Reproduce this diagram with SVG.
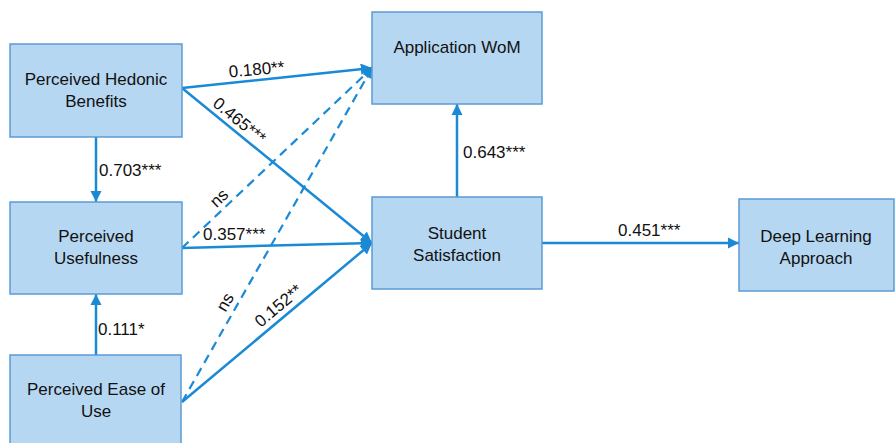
<svg xmlns="http://www.w3.org/2000/svg" width="895" height="443" viewBox="0 0 895 443">
<style>
.box{fill:#b6d7f1;stroke:#5b9bd5;stroke-width:1.5}
.t{font-family:"Liberation Sans",Arial,sans-serif;font-size:17px;fill:#111;text-anchor:middle}
.l{font-family:"Liberation Sans",Arial,sans-serif;font-size:17px;fill:#111}
.c{stroke:#1a8ad6;stroke-width:2.5;fill:none}
.d{stroke:#1a8ad6;stroke-width:2.2;fill:none;stroke-dasharray:9,6}
</style>
<defs>
<marker id="ah" viewBox="0 0 10 10" refX="10" refY="5" markerWidth="4.5" markerHeight="4.5" markerUnits="strokeWidth" orient="auto">
<path d="M0,0 L10,5 L0,10 z" fill="#1a8ad6"/>
</marker>
</defs>
<rect width="895" height="443" fill="#fff"/>
<g id="connectors">
<line class="c" x1="182" y1="88" x2="372" y2="68" marker-end="url(#ah)"/>
<line class="c" x1="182" y1="88" x2="372" y2="243" marker-end="url(#ah)"/>
<line class="c" x1="96" y1="137" x2="96" y2="202" marker-end="url(#ah)"/>
<line class="d" x1="182" y1="248" x2="372" y2="68" marker-end="url(#ah)"/>
<line class="c" x1="182" y1="248" x2="372" y2="243" marker-end="url(#ah)"/>
<line class="d" x1="182" y1="402" x2="372" y2="68" marker-end="url(#ah)"/>
<line class="c" x1="182" y1="402" x2="372" y2="243" marker-end="url(#ah)"/>
<line class="c" x1="96" y1="355" x2="96" y2="294" marker-end="url(#ah)"/>
<line class="c" x1="457" y1="197" x2="457" y2="104" marker-end="url(#ah)"/>
<line class="c" x1="542" y1="243" x2="739" y2="243" marker-end="url(#ah)"/>
<text class="t" x="257" y="75" transform="rotate(-5 257 75)">0.180**</text>
<text class="t" x="236" y="125" transform="rotate(39 236 125)">0.465***</text>
<text class="t" x="223" y="202" transform="rotate(-43.5 223 202)">ns</text>
<text class="t" x="230" y="305" transform="rotate(-60 230 305)">ns</text>
<text class="t" x="282" y="310" transform="rotate(-40 282 310)">0.152**</text>
<text class="l" x="203" y="240">0.357***</text>
<text class="l" x="99" y="176">0.703***</text>
<text class="l" x="98" y="335">0.111*</text>
<text class="l" x="463" y="158">0.643***</text>
<text class="l" x="618" y="236">0.451***</text>
</g>
<g id="hedonic">
<rect class="box" x="10" y="44" width="172" height="93"/>
<text class="t" x="96" y="85">Perceived Hedonic</text>
<text class="t" x="96" y="107">Benefits</text>
</g>
<g id="usefulness">
<rect class="box" x="10" y="202" width="172" height="92"/>
<text class="t" x="96" y="242">Perceived</text>
<text class="t" x="96" y="264">Usefulness</text>
</g>
<g id="ease">
<rect class="box" x="10" y="355" width="171" height="95"/>
<text class="t" x="96" y="395">Perceived Ease of</text>
<text class="t" x="96" y="417">Use</text>
</g>
<g id="wom">
<rect class="box" x="372" y="12" width="170" height="92"/>
<text class="t" x="457" y="53">Application WoM</text>
</g>
<g id="satisfaction">
<rect class="box" x="372" y="197" width="170" height="92"/>
<text class="t" x="457" y="239">Student</text>
<text class="t" x="457" y="261">Satisfaction</text>
</g>
<g id="deep">
<rect class="box" x="739" y="199" width="155" height="92"/>
<text class="t" x="816" y="242">Deep Learning</text>
<text class="t" x="816" y="264">Approach</text>
</g>
</svg>
